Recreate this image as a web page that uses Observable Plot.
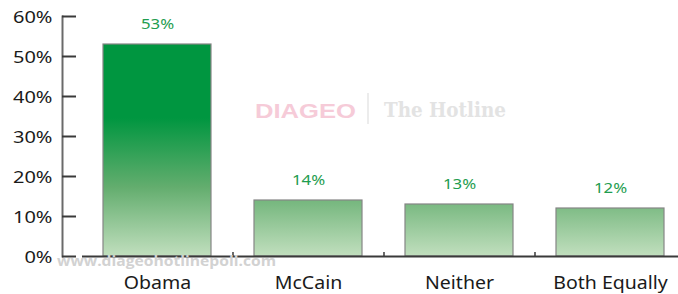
<!DOCTYPE html>
<html>
<head>
<meta charset="utf-8">
<script src="https://cdn.jsdelivr.net/npm/d3@7"></script>
<script src="https://cdn.jsdelivr.net/npm/@observablehq/plot@0.6"></script>
<style>
  html, body { margin: 0; padding: 0; background: #fff; }
  #chart { width: 678px; height: 294px; overflow: hidden; }
</style>
</head>
<body>
<div id="chart"></div>
<script>
const categories = ["Obama", "McCain", "Neither", "Both Equally"];
const values = [53, 14, 13, 12];
const yTicks = [0, 10, 20, 30, 40, 50, 60];

const data = categories.map((c, i) => ({cat: c, value: values[i]}));
const xRange = [103, 664];
const padInner = 0.285;
const step = (xRange[1] - xRange[0]) / (categories.length - padInner);

const chart = Plot.plot({
  width: 678,
  height: 294,
  marginLeft: 62,
  marginRight: 0,
  marginTop: 16,
  marginBottom: 38,
  style: {fontFamily: "'Noto Sans', sans-serif", fontSize: "15px", color: "#1a1a1a", background: "#fff", overflow: "visible"},
  x: {domain: categories, range: xRange, paddingInner: padInner, paddingOuter: 0, align: 0.5, axis: null},
  y: {domain: [0, 60], range: [256, 16], axis: null},
  marks: [
    Plot.barY(data, {x: "cat", y: "value", fill: "url(#barGrad)", stroke: "#858585", strokeWidth: 1.2}),
    Plot.text(data, {x: "cat", y: "value", text: d => d.value + "%", dy: -20, fill: "#1f9d50", fontSize: 15}),
    Plot.frame({anchor: "left", stroke: "#6a6a6a", strokeWidth: 2}),
    Plot.tickY(yTicks, {y: d => d, insetRight: 678 - 76, stroke: "#3a3a3a", strokeWidth: 2}),
    Plot.ruleY([0], {insetLeft: 20, stroke: "#3a3a3a", strokeWidth: 2}),
    Plot.ruleX(categories.slice(1), {x: d => d, y1: 0, y2: 1, dx: -step / 2, stroke: "#3a3a3a", strokeWidth: 1.5}),
    Plot.axisY({ticks: yTicks, tickFormat: d => d + "%", tickSize: 0, tickPadding: 10, fontSize: 16, dy: 1, fill: "#1a1a1a", label: null}),
    Plot.axisX({tickSize: 0, tickPadding: 20, fontSize: 17.3, fill: "#1a1a1a", label: null})
  ]
});

const ns = "http://www.w3.org/2000/svg";
const defs = document.createElementNS(ns, "defs");
chart.insertBefore(defs, chart.firstChild);
const grad = d3.select(defs).append("linearGradient")
  .attr("id", "barGrad")
  .attr("gradientUnits", "userSpaceOnUse")
  .attr("x1", 0).attr("x2", 0).attr("y1", 118).attr("y2", 256);
grad.append("stop").attr("offset", "0").attr("stop-color", "#009640");
grad.append("stop").attr("offset", "0.5").attr("stop-color", "#63ad6e");
grad.append("stop").attr("offset", "1").attr("stop-color", "#c1dfbe");

// background watermark
const wmNode = document.createElementNS(ns, "g");
chart.insertBefore(wmNode, defs.nextSibling);
const wm = d3.select(wmNode).attr("text-anchor", "start");
wm.append("text").text("DIAGEO")
  .attr("x", 255).attr("y", 117.5)
  .attr("font-family", "'Liberation Sans', Arial, sans-serif").attr("font-weight", "bold")
  .attr("font-size", 20.5).attr("fill", "#f6cbd8")
  .attr("textLength", 101).attr("lengthAdjust", "spacingAndGlyphs");
wm.append("line").attr("x1", 368).attr("x2", 368).attr("y1", 93).attr("y2", 124)
  .attr("stroke", "#e6e6e6").attr("stroke-width", 1.5);
wm.append("text").text("The Hotline")
  .attr("x", 384).attr("y", 117)
  .attr("font-family", "'DejaVu Serif', serif").attr("font-weight", "bold")
  .attr("font-size", 21).attr("fill", "#e3e3e3")
  .attr("textLength", 122).attr("lengthAdjust", "spacingAndGlyphs");
d3.select(chart).append("text").text("www.diageohotlinepoll.com")
  .attr("x", 57).attr("y", 265.5).attr("text-anchor", "start")
  .attr("font-family", "'Open Sans', sans-serif").attr("font-weight", "bold")
  .attr("font-size", 14).attr("fill", "#d2d2d2")
  .attr("textLength", 219).attr("lengthAdjust", "spacingAndGlyphs");

document.getElementById("chart").appendChild(chart);

// the reference's lettering is set wide: stretch glyphs horizontally
function stretch(selector, k) {
  chart.querySelectorAll(selector).forEach(t => {
    const len = t.getComputedTextLength();
    t.setAttribute("textLength", (len * k).toFixed(1));
    t.setAttribute("lengthAdjust", "spacingAndGlyphs");
  });
}
stretch('g[aria-label="y-axis tick label"] text', 1.25);
stretch('g[aria-label="x-axis tick label"] text', 1.13);
stretch('g[aria-label="text"] text', 1.12);
</script>
</body>
</html>
